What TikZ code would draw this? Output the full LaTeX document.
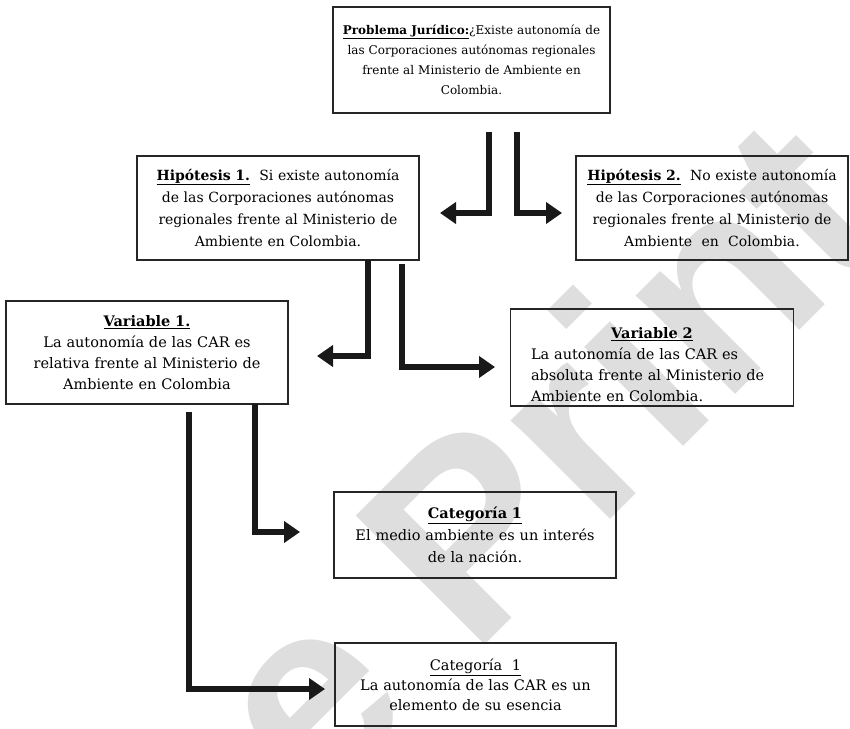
\documentclass[tikz,border=0pt]{standalone}
\usepackage{fontspec}
\setmainfont{DejaVu Serif}
\newfontfamily\wmfont{Liberation Sans}
\usetikzlibrary{arrows.meta}
\tikzset{
  box/.style={draw=black!85, line width=1.2pt, inner sep=0pt, align=center,
    font=\fontsize{14.5}{21}\selectfont},
  arr/.style={draw=black!90, line width=5.5pt, line join=miter,
    -{Triangle[length=16pt,width=21pt]}},
  wm/.style={text=black!13, inner sep=0pt, rotate=45,
    font=\wmfont\bfseries\fontsize{265}{265}\selectfont}
}
\begin{document}
\begin{tikzpicture}[x=1pt,y=-1pt]
\useasboundingbox (0,0) rectangle (850,728);
\begin{scope}
  \clip (0,0) rectangle (850,728);
  \node[wm, anchor=base west] (wmk) at (212,918) {se Print};
\end{scope}

\node[box, minimum width=277pt, minimum height=106pt, text width=271pt,
  font=\fontsize{12}{20}\selectfont] (prob) at (471.5,60)
  {\underline{\textbf{Problema Jurídico:}}¿Existe autonomía de\\
   las Corporaciones autónomas regionales\\
   frente al Ministerio de Ambiente en\\
   Colombia.};

\node[box, minimum width=282pt, minimum height=104pt, text width=274pt,
  font=\fontsize{14}{22.3}\selectfont] (h1) at (278,208)
  {\underline{\textbf{Hipótesis 1.}}\ \ Si existe autonomía\\
   de las Corporaciones autónomas\\
   regionales frente al Ministerio de\\
   Ambiente en Colombia.};

\node[box, minimum width=272pt, minimum height=104pt, text width=266pt,
  font=\fontsize{14}{22.3}\selectfont] (h2) at (712,208)
  {\underline{\textbf{Hipótesis 2.}}\ \ No existe autonomía\\
   de las Corporaciones autónomas\\
   regionales frente al Ministerio de\\
   Ambiente \ en \ Colombia.};

\node[box, minimum width=282pt, minimum height=103pt, text width=274pt] (v1) at (147,352.5)
  {\underline{\textbf{Variable 1.}}\\
   La autonomía de las CAR es\\
   relativa frente al Ministerio de\\
   Ambiente en Colombia};

\node[box, minimum width=283pt, minimum height=97pt, text width=242pt, align=left] (v2) at (652,357.5)
  {\makebox[\linewidth][c]{\rule{0pt}{25pt}\underline{\textbf{Variable 2}}}\\
   La autonomía de las CAR es\\
   absoluta frente al Ministerio de\\
   Ambiente en Colombia.};

\node[box, minimum width=282pt, minimum height=86pt, text width=274pt,
  font=\fontsize{14.5}{22}\selectfont] (c1) at (475,535)
  {\underline{\textbf{Categoría 1}}\\
   El medio ambiente es un interés\\
   de la nación.};

\node[box, minimum width=281pt, minimum height=83pt, text width=274pt,
  font=\fontsize{14.5}{20}\selectfont] (c2) at (475.5,684.5)
  {\underline{Categoría \ 1}\\
   La autonomía de las CAR es un\\
   elemento de su esencia};

% connectors
\coordinate (a1) at (489,132); \coordinate (b1) at (440,213);
\coordinate (a2) at (517,132); \coordinate (b2) at (562,213);
\coordinate (a3) at (368,260); \coordinate (b3) at (317,356);
\coordinate (a4) at (402,264); \coordinate (b4) at (495,367);
\coordinate (a5) at (255,404); \coordinate (b5) at (300,532);
\coordinate (a6) at (189,412); \coordinate (b6) at (325,689);
\draw[arr] (a1) |- (b1);
\draw[arr] (a2) |- (b2);
\draw[arr] (a3) |- (b3);
\draw[arr] (a4) |- (b4);
\draw[arr] (a5) |- (b5);
\draw[arr] (a6) |- (b6);
\end{tikzpicture}
\end{document}
